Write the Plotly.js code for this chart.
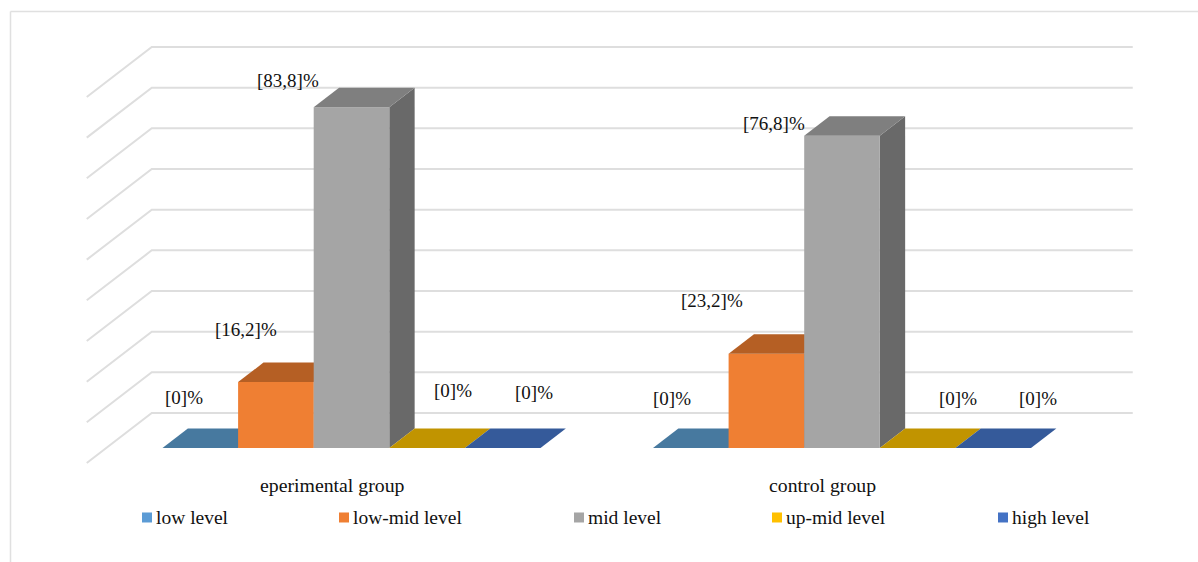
<!DOCTYPE html>
<html>
<head>
<meta charset="utf-8">
<script src="https://cdn.plot.ly/plotly-3.0.1.min.js"></script>
<style>html,body{margin:0;padding:0;background:#fff;overflow:hidden}</style>
</head>
<body>
<div id="chart" style="width:1198px;height:562px"></div>
<script>
// Data
const groups = ['eperimental group', 'control group'];
const levels = ['low level', 'low-mid level', 'mid level', 'up-mid level', 'high level'];
const lowLevel = [0, 0];
const lowMidLevel = [16.2, 23.2];
const midLevel = [83.8, 76.8];
const upMidLevel = [0, 0];
const highLevel = [0, 0];
const gridValues = [0, 10, 20, 30, 40, 50, 60, 70, 80, 90];
const valueLabels = [
  ['[0]%', '[0]%'],
  ['[16,2]%', '[23,2]%'],
  ['[83,8]%', '[76,8]%'],
  ['[0]%', '[0]%'],
  ['[0]%', '[0]%']
];

// Face colours per series
const frontColors = ['#5b9bd5', '#ef7f33', '#a5a5a5', '#ffc000', '#4472c4'];
const topColors = ['#47799f', '#b55f24', '#7f7f7f', '#c19400', '#355a9a'];
const sideColors = ['#3e6a90', '#8f4d1e', '#696969', '#a88000', '#2f4f88'];

// Oblique projection: x in group units, y in value units
const W = 1198, H = 562;
const PX_PER_GROUP = 490.5, PX_PER_VALUE = 4.0667;
const X0_PX = 332, Y0_PX = 463;
const WALL_DX = 65 / PX_PER_GROUP, WALL_DY = 50 / PX_PER_VALUE;
const BAR_W = 75.6 / PX_PER_GROUP;
const BAR_FRONT = 0.30, BAR_BACK = 0.69;
const project = (x, depth, v) => [x + depth * WALL_DX, v + depth * WALL_DY];
const polygon = pts => {
  const c = pts.concat([pts[0]]);
  return { x: c.map(p => p[0]), y: c.map(p => p[1]) };
};

const traces = [];

// Back wall and side wall gridlines
gridValues.forEach(v => {
  const a = project(-0.5, 0, v), b = project(-0.5, 1, v), c = project(1.5, 1, v);
  traces.push({
    x: [a[0], b[0], c[0]], y: [a[1], b[1], c[1]], mode: 'lines', hoverinfo: 'skip',
    showlegend: false, line: { color: '#dedede', width: 2 }
  });
});

const face = (pts, color, name) => Object.assign(polygon(pts), {
  mode: 'lines', fill: 'toself', fillcolor: color, line: { width: 0, color: color },
  showlegend: false, name: name, hoverinfo: 'skip'
});

// Bars, drawn left to right so the later ones overlap the earlier ones
const annotations = [];
const seriesValues = [lowLevel, lowMidLevel, midLevel, upMidLevel, highLevel];
// Hand placement of the value labels, in pixels from the bar's front top centre
const labelNudge = [
  [[-16, 51], [-19, 50]],
  [[-30, 53], [-54, 53]],
  [[-64, 27], [-68, 12]],
  [[26, 58], [40, 50]],
  [[31, 56], [45, 50]]
];
groups.forEach((g, gi) => {
  levels.forEach((lvl, si) => {
    const v = seriesValues[si][gi];
    const x0 = gi + (si - 2.5) * BAR_W, x1 = x0 + BAR_W;
    if (v > 0) {
      traces.push(face([project(x1, BAR_FRONT, 0), project(x1, BAR_BACK, 0), project(x1, BAR_BACK, v), project(x1, BAR_FRONT, v)], sideColors[si], lvl));
      traces.push(face([project(x0, BAR_FRONT, 0), project(x1, BAR_FRONT, 0), project(x1, BAR_FRONT, v), project(x0, BAR_FRONT, v)], frontColors[si], lvl));
    }
    traces.push(face([project(x0, BAR_FRONT, v), project(x1, BAR_FRONT, v), project(x1, BAR_BACK, v), project(x0, BAR_BACK, v)], topColors[si], lvl));
    const anchor = project((x0 + x1) / 2, BAR_FRONT, v);
    annotations.push({
      x: anchor[0], y: anchor[1], xref: 'x', yref: 'y', text: valueLabels[si][gi], showarrow: false,
      xshift: labelNudge[si][gi][0], yshift: labelNudge[si][gi][1],
      font: { family: 'Liberation Serif', size: 19, color: '#111' }
    });
  });
  // Group name under the floor
  annotations.push({
    x: gi, y: -5.35, xref: 'x', yref: 'y', text: g, showarrow: false,
    font: { family: 'Liberation Serif', size: 19.8, color: '#111' }
  });
});

// Legend row: swatch plus text
const legendSwatchPx = [147, 344, 579, 777, 1003];
const legendTextPx = [154, 351, 586, 784, 1010];
const legendRowValue = -13.4;
const pxToX = px => (px - X0_PX) / PX_PER_GROUP;
levels.forEach((lvl, si) => {
  traces.push({
    x: [pxToX(legendSwatchPx[si])], y: [legendRowValue],
    mode: 'markers', name: lvl,
    marker: { symbol: 'square', size: 10, color: frontColors[si] },
    showlegend: false, hoverinfo: 'name'
  });
  annotations.push({
    x: pxToX(legendTextPx[si]), y: legendRowValue - 0.1, xref: 'x', yref: 'y', xanchor: 'left',
    text: lvl, showarrow: false,
    font: { family: 'Liberation Serif', size: 19.5, color: '#111' }
  });
});

const layout = {
  width: W, height: H, margin: { l: 0, r: 0, t: 0, b: 0 },
  paper_bgcolor: '#fff', plot_bgcolor: '#fff', showlegend: false,
  xaxis: { range: [-X0_PX / PX_PER_GROUP, (W - X0_PX) / PX_PER_GROUP], visible: false, fixedrange: true },
  yaxis: { range: [-(H - Y0_PX) / PX_PER_VALUE, Y0_PX / PX_PER_VALUE], visible: false, fixedrange: true },
  annotations: annotations,
  shapes: [
    { type: 'line', xref: 'paper', yref: 'paper', x0: 10.5 / W, x1: 10.5 / W, y0: 0, y1: 1 - 11.5 / H, line: { color: '#e0e0e0', width: 1.5 } },
    { type: 'line', xref: 'paper', yref: 'paper', x0: 10.5 / W, x1: 1, y0: 1 - 11.5 / H, y1: 1 - 11.5 / H, line: { color: '#e0e0e0', width: 1.5 } }
  ]
};

Plotly.newPlot('chart', traces, layout, { displayModeBar: false, staticPlot: true });
</script>
</body>
</html>
